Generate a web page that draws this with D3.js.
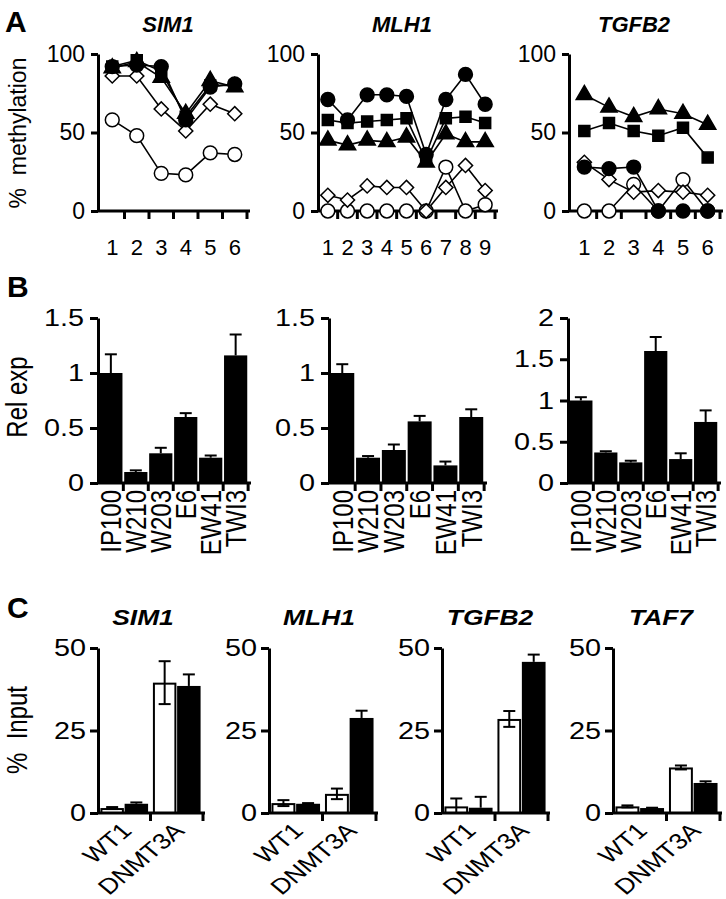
<!DOCTYPE html>
<html><head><meta charset="utf-8">
<script src="https://cdn.jsdelivr.net/npm/d3@7"></script>
<style>body{margin:0;background:#fff} svg{display:block}</style>
</head><body>
<script>
// ---------- DATA ----------
// Panel A: % methylation per CpG site
const sitesSIM1 = [1,2,3,4,5,6];
const sitesMLH1 = [1,2,3,4,5,6,7,8,9];
const sitesTGFB2 = [1,2,3,4,5,6];
const methTicks = [0,50,100];

const simFilledCircle   = [92, 93, 92, 58, 79, 81];
const simFilledSquare   = [92, 96, 89, 60, 80, 80];
const simFilledTriangle = [91, 95, 85, 62, 83, 79];
const simOpenDiamond    = [86, 86, 65, 51, 68, 62];
const simOpenCircle     = [58, 48, 24, 23, 37, 36];

const mlhFilledCircle   = [71, 58, 74, 74, 73, 36, 71, 87, 68];
const mlhFilledSquare   = [58, 56, 57, 58, 59, 32, 59, 60, 56];
const mlhFilledTriangle = [45, 42, 45, 44, 47, 31, 49, 44, 44];
const mlhOpenDiamond    = [10, 7, 16, 15, 15, 0, 15, 29, 13];
const mlhOpenCircle     = [0, 0, 0, 0, 0, 0, 28, 0, 4];

const tgfFilledCircle   = [28, 27, 28, 0, 0, 0];
const tgfFilledSquare   = [51, 56, 51, 48, 53, 34];
const tgfFilledTriangle = [74, 66, 60, 65, 62, 55];
const tgfOpenDiamond    = [31, 20, 12, 13, 12, 10];
const tgfOpenCircle     = [0, 0, 17, 0, 20, 0];

// Panel B: relative expression
const cellLines = ["IP100","W210","W203","E6","EW41","TWI3"];
const relSIM1    = [1.00, 0.10, 0.27, 0.60, 0.23, 1.16];
const relSIM1Err = [0.17, 0.015, 0.05, 0.035, 0.02, 0.19];
const relMLH1    = [1.00, 0.23, 0.30, 0.56, 0.16, 0.60];
const relMLH1Err = [0.08, 0.015, 0.05, 0.05, 0.035, 0.07];
const relTGFB2    = [1.00, 0.37, 0.25, 1.60, 0.29, 0.74];
const relTGFB2Err = [0.04, 0.015, 0.02, 0.17, 0.07, 0.14];
const relTicksA = [0, 0.5, 1, 1.5];
const relTicksB = [0, 0.5, 1, 1.5, 2];

// Panel C: % input (white / black bars)
const chipGroups = ["WT1","DNMT3A"];
const inputTicks = [0,25,50];
const chipSIM1White = [1.5, 39.5],  chipSIM1WhiteErr = [0.3, 6.5];
const chipSIM1Black = [2.8, 38.5],  chipSIM1BlackErr = [0.4, 3.5];
const chipMLH1White = [3.0, 5.8],   chipMLH1WhiteErr = [0.9, 1.6];
const chipMLH1Black = [2.8, 28.8],  chipMLH1BlackErr = [0.2, 2.2];
const chipTGFB2White = [2.0, 28.5], chipTGFB2WhiteErr = [2.4, 2.4];
const chipTGFB2Black = [1.6, 45.8], chipTGFB2BlackErr = [3.3, 2.2];
const chipTAF7White = [2.0, 13.8],  chipTAF7WhiteErr = [0.3, 0.6];
const chipTAF7Black = [1.5, 9.1],   chipTAF7BlackErr = [0.1, 0.5];

// ---------- DRAWING ----------
const W = 726, H = 899;
const FONT = "'Liberation Sans', Arial, Helvetica, sans-serif";
const svg = d3.select("body").append("svg").attr("width", W).attr("height", H);
svg.append("rect").attr("width", W).attr("height", H).attr("fill", "#fff");

function styleAxis(g) {
  g.selectAll("path,line").attr("stroke", "#000").attr("stroke-width", 3);
  g.selectAll("text").attr("font-family", FONT).attr("fill", "#000");
}
function text(x, y, str, size, opts = {}) {
  return svg.append("text").attr("x", x).attr("y", y).text(str)
    .attr("font-family", FONT).attr("font-size", size)
    .attr("font-weight", opts.bold ? "bold" : "normal")
    .attr("font-style", opts.italic ? "italic" : "normal")
    .attr("text-anchor", opts.anchor || "start")
    .attr("transform", opts.transform || null);
}

// Panel letters
text(5, 32, "A", 30, {bold: true});
text(7, 297, "B", 30, {bold: true});
text(7, 618, "C", 30, {bold: true});

// Y labels
svg.append("text").attr("transform", "translate(26,133) rotate(-90)")
  .attr("text-anchor", "middle").attr("font-family", FONT).attr("font-size", 23)
  .attr("xml:space", "preserve").text("%  methylation");
svg.append("text").attr("transform", "translate(27,397) scale(1.2,1) rotate(-90)")
  .attr("text-anchor", "middle").attr("font-family", FONT).attr("font-size", 24).text("Rel exp");
svg.append("text").attr("transform", "translate(27,730) scale(1.2,1) rotate(-90)")
  .attr("text-anchor", "middle").attr("font-family", FONT).attr("font-size", 24)
  .attr("xml:space", "preserve").text("%  Input");

// ---- Panel A ----
const markerDefs = {
  oc:  {type: d3.symbolCircle, size: 150, fill: "#fff", rot: 0},
  dia: {type: d3.symbolSquare, size: 100, fill: "#fff", rot: 45},
  tri: {type: d3.symbolTriangle, size: 115, fill: "#000", rot: 0},
  sq:  {type: d3.symbolSquare, size: 121, fill: "#000", rot: 0},
  fc:  {type: d3.symbolCircle, size: 150, fill: "#000", rot: 0}
};

function panelA(o) {
  const g = svg.append("g");
  const x = d3.scaleBand().domain(o.sites).range(o.xr);
  const y = d3.scaleLinear().domain([0, 100]).range([211, 54]);
  const cx = s => x(s) + x.bandwidth() / 2;
  const line = d3.line().x((d, i) => cx(o.sites[i])).y(d => y(d));
  o.series.forEach(s => {
    g.append("path").attr("d", line(s.values)).attr("fill", "none")
      .attr("stroke", "#000").attr("stroke-width", 1.6);
  });
  const ya = g.append("g").attr("transform", `translate(${o.x0},0)`)
    .call(d3.axisLeft(y).tickValues(methTicks).tickSizeInner(7).tickSizeOuter(0).tickPadding(6));
  styleAxis(ya);
  ya.selectAll("text").attr("font-size", 23);
  // x axis
  g.append("line").attr("x1", o.x0).attr("x2", o.xr[1] + 3).attr("y1", y(0)).attr("y2", y(0))
    .attr("stroke", "#000").attr("stroke-width", 3);
  o.sites.forEach(s => {
    const bx = x(s) + x.step();
    g.append("line").attr("x1", bx).attr("x2", bx).attr("y1", y(0)).attr("y2", y(0) + 8)
      .attr("stroke", "#000").attr("stroke-width", 3);
  });
  const xa = g.append("g").attr("transform", `translate(0,${y(0)})`)
    .call(d3.axisBottom(x).tickSize(0).tickPadding(28));
  xa.select(".domain").remove();
  styleAxis(xa);
  xa.selectAll("text").attr("font-size", 22);
  // markers
  o.series.forEach(s => {
    const m = markerDefs[s.marker];
    const sym = d3.symbol().type(m.type).size(m.size);
    g.selectAll(null).data(s.values).enter().append("path")
      .attr("d", sym)
      .attr("transform", (d, i) => `translate(${cx(o.sites[i])},${y(d)}) rotate(${m.rot})`)
      .attr("fill", m.fill).attr("stroke", "#000").attr("stroke-width", 1.5);
  });
  text(o.title[0], 32, o.title[1], 22, {bold: true, italic: true, anchor: "middle"});
}

panelA({sites: sitesSIM1, x0: 98, xr: [100, 247], title: [168, "SIM1"], series: [
  {marker: "oc", values: simOpenCircle}, {marker: "dia", values: simOpenDiamond},
  {marker: "tri", values: simFilledTriangle}, {marker: "sq", values: simFilledSquare},
  {marker: "fc", values: simFilledCircle}]});
panelA({sites: sitesMLH1, x0: 318, xr: [318, 495], title: [402, "MLH1"], series: [
  {marker: "oc", values: mlhOpenCircle}, {marker: "dia", values: mlhOpenDiamond},
  {marker: "tri", values: mlhFilledTriangle}, {marker: "sq", values: mlhFilledSquare},
  {marker: "fc", values: mlhFilledCircle}]});
panelA({sites: sitesTGFB2, x0: 569, xr: [572, 720], title: [634, "TGFB2"], series: [
  {marker: "oc", values: tgfOpenCircle}, {marker: "dia", values: tgfOpenDiamond},
  {marker: "tri", values: tgfFilledTriangle}, {marker: "sq", values: tgfFilledSquare},
  {marker: "fc", values: tgfFilledCircle}]});

// ---- Panel B ----
function panelB(o) {
  const g = svg.append("g");
  const x = d3.scaleBand().domain(cellLines).range(o.xr).paddingInner(0.07).paddingOuter(0.03);
  const y = d3.scaleLinear().domain([0, o.max]).range([483, 318]);
  g.selectAll(null).data(o.values).enter().append("rect")
    .attr("x", (d, i) => x(cellLines[i])).attr("width", x.bandwidth())
    .attr("y", d => y(d)).attr("height", d => y(0) - y(d)).attr("fill", "#000");
  o.values.forEach((v, i) => {
    const c = x(cellLines[i]) + x.bandwidth() / 2, e = o.err[i];
    g.append("line").attr("x1", c).attr("x2", c).attr("y1", y(v)).attr("y2", y(v + e))
      .attr("stroke", "#000").attr("stroke-width", 2);
    g.append("line").attr("x1", c - 6).attr("x2", c + 6).attr("y1", y(v + e)).attr("y2", y(v + e))
      .attr("stroke", "#000").attr("stroke-width", 2);
  });
  const ya = g.append("g").attr("transform", `translate(${o.x0},0)`)
    .call(d3.axisLeft(y).tickValues(o.ticks).tickSizeInner(8).tickSizeOuter(0).tickFormat(d3.format("")));
  styleAxis(ya);
  ya.selectAll("text").attr("font-size", 24).attr("x", -14 / 1.2).attr("transform", "scale(1.2,1)");
  g.append("line").attr("x1", o.x0).attr("x2", o.xr[1] + 3).attr("y1", y(0)).attr("y2", y(0))
    .attr("stroke", "#000").attr("stroke-width", 3);
  cellLines.forEach(c => {
    const bx = x(c) + x.step() * (1 - x.paddingInner() / 2);
    g.append("line").attr("x1", bx).attr("x2", bx).attr("y1", y(0)).attr("y2", y(0) + 8)
      .attr("stroke", "#000").attr("stroke-width", 3);
  });
  cellLines.forEach(c => {
    const cx = x(c) + x.bandwidth() / 2;
    g.append("text").attr("transform", `translate(${cx},490) scale(1.2,1) rotate(-90)`)
      .attr("text-anchor", "end").attr("dy", "0.36em")
      .attr("font-family", FONT).attr("font-size", 24).text(c);
  });
}
panelB({x0: 98, xr: [98.5, 248], max: 1.5, ticks: relTicksA, values: relSIM1, err: relSIM1Err});
panelB({x0: 329, xr: [329.5, 484], max: 1.5, ticks: relTicksA, values: relMLH1, err: relMLH1Err});
panelB({x0: 568, xr: [568.5, 718], max: 2, ticks: relTicksB, values: relTGFB2, err: relTGFB2Err});

// ---- Panel C ----
function panelC(o) {
  const g = svg.append("g");
  const x = d3.scaleBand().domain(chipGroups).range(o.xr);
  const sub = d3.scaleBand().domain(["white", "black"]).range([0, x.bandwidth()]).paddingOuter(0.1).paddingInner(0.03);
  const y = d3.scaleLinear().domain([0, 50]).range([813, 648]);
  const sets = [{k: "white", v: o.white, e: o.whiteErr}, {k: "black", v: o.black, e: o.blackErr}];
  sets.forEach(s => {
    s.v.forEach((v, i) => {
      const bx = x(chipGroups[i]) + sub(s.k), bw = sub.bandwidth();
      if (s.k === "white") {
        g.append("rect").attr("x", bx + 1).attr("width", bw - 2).attr("y", y(v) + 1).attr("height", y(0) - y(v) - 1)
          .attr("fill", "#fff").attr("stroke", "#000").attr("stroke-width", 2);
      } else {
        g.append("rect").attr("x", bx).attr("width", bw).attr("y", y(v)).attr("height", y(0) - y(v)).attr("fill", "#000");
      }
    });
  });
  sets.forEach(s => {
    s.v.forEach((v, i) => {
      const c = x(chipGroups[i]) + sub(s.k) + sub.bandwidth() / 2, e = s.e[i];
      const lo = s.k === "white" ? Math.max(0, v - e) : v, hi = v + e;
      g.append("line").attr("x1", c).attr("x2", c).attr("y1", y(lo)).attr("y2", y(hi))
        .attr("stroke", "#000").attr("stroke-width", 2);
      g.append("line").attr("x1", c - 6).attr("x2", c + 6).attr("y1", y(hi)).attr("y2", y(hi))
        .attr("stroke", "#000").attr("stroke-width", 2);
      if (s.k === "white")
        g.append("line").attr("x1", c - 6).attr("x2", c + 6).attr("y1", y(lo)).attr("y2", y(lo))
          .attr("stroke", "#000").attr("stroke-width", 2);
    });
  });
  const ya = g.append("g").attr("transform", `translate(${o.x0},0)`)
    .call(d3.axisLeft(y).tickValues(inputTicks).tickSizeInner(8).tickSizeOuter(0));
  styleAxis(ya);
  ya.selectAll("text").attr("font-size", 24).attr("x", -12 / 1.2).attr("transform", "scale(1.2,1)");
  g.append("line").attr("x1", o.x0).attr("x2", o.xr[1] + 2).attr("y1", y(0)).attr("y2", y(0))
    .attr("stroke", "#000").attr("stroke-width", 3);
  chipGroups.forEach(c => {
    const bx = x(c) + x.step();
    g.append("line").attr("x1", bx).attr("x2", bx).attr("y1", y(0)).attr("y2", y(0) + 8)
      .attr("stroke", "#000").attr("stroke-width", 3);
    const cx = x(c) + x.bandwidth() / 2;
    g.append("text").attr("transform", `translate(${cx + 9},832) scale(1.2,1) rotate(-45)`)
      .attr("text-anchor", "end").attr("font-family", FONT).attr("font-size", 22).text(c);
  });
  svg.append("text").attr("transform", `translate(${o.title[0]},625) scale(1.2,1)`)
    .attr("text-anchor", "middle").attr("font-family", FONT).attr("font-size", 22)
    .attr("font-weight", "bold").attr("font-style", "italic").text(o.title[1]);
}
panelC({x0: 98, xr: [98, 203], title: [143, "SIM1"], white: chipSIM1White, whiteErr: chipSIM1WhiteErr, black: chipSIM1Black, blackErr: chipSIM1BlackErr});
panelC({x0: 269, xr: [269, 376], title: [319, "MLH1"], white: chipMLH1White, whiteErr: chipMLH1WhiteErr, black: chipMLH1Black, blackErr: chipMLH1BlackErr});
panelC({x0: 442, xr: [442, 548], title: [490, "TGFB2"], white: chipTGFB2White, whiteErr: chipTGFB2WhiteErr, black: chipTGFB2Black, blackErr: chipTGFB2BlackErr});
panelC({x0: 613, xr: [613, 720], title: [661, "TAF7"], white: chipTAF7White, whiteErr: chipTAF7WhiteErr, black: chipTAF7Black, blackErr: chipTAF7BlackErr});
</script>
</body></html>
